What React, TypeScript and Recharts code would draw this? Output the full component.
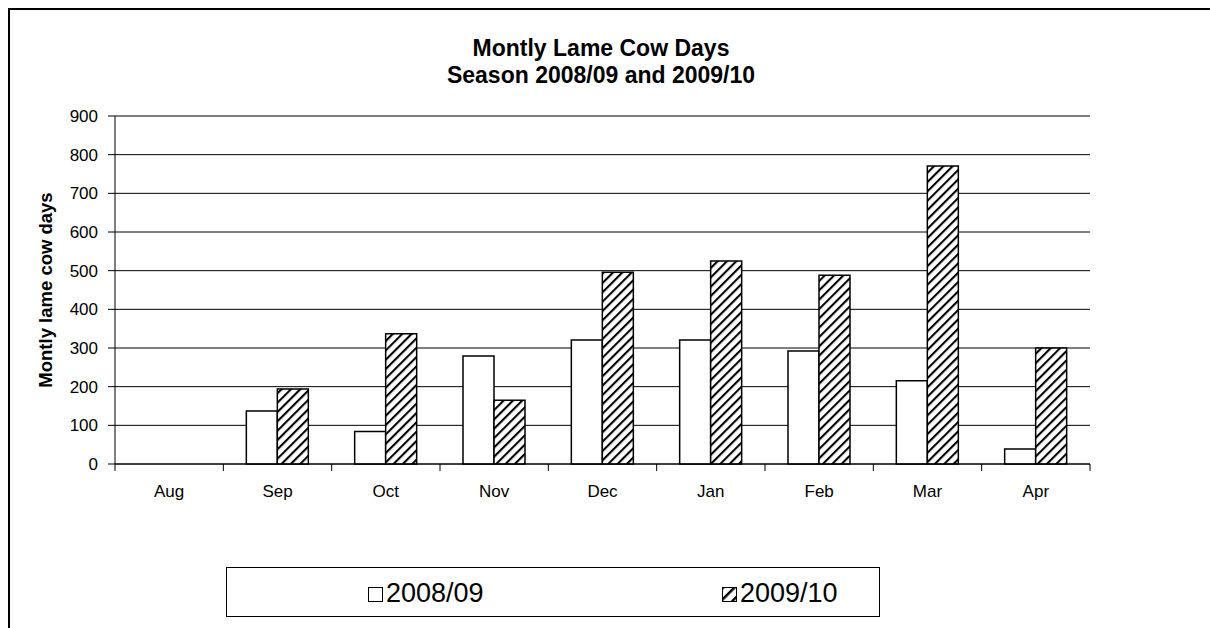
import { BarChart, Bar, XAxis, YAxis, CartesianGrid, Legend } from 'recharts'

const MONTHS = ['Aug', 'Sep', 'Oct', 'Nov', 'Dec', 'Jan', 'Feb', 'Mar', 'Apr']
const SEASON_0809 = [0, 137, 84, 279, 321, 321, 292, 215, 39]
const SEASON_0910 = [0, 194, 337, 165, 496, 525, 488, 771, 300]
const Y_TICKS = [0, 100, 200, 300, 400, 500, 600, 700, 800, 900]

const data = MONTHS.map((m, i) => ({ month: m, s0809: SEASON_0809[i], s0910: SEASON_0910[i] }))

const FONT = '"Liberation Sans", Arial, sans-serif'
const W = 1202
const H = 620
const MARGIN = { top: 108, right: 120, bottom: 124, left: 47 }
const PLOT_W = W - MARGIN.left - MARGIN.right - 60
const BAND = PLOT_W / MONTHS.length
const AXIS_Y = H - MARGIN.bottom - 40

function MonthTick(props: any) {
  const { x, payload, index } = props
  const left = x - BAND / 2
  return (
    <g>
      <line x1={left} x2={left} y1={AXIS_Y} y2={AXIS_Y + 7} stroke="#000" />
      {index === MONTHS.length - 1 && (
        <line x1={x + BAND / 2} x2={x + BAND / 2} y1={AXIS_Y} y2={AXIS_Y + 7} stroke="#000" />
      )}
      <text x={x} y={AXIS_Y + 33} textAnchor="middle" fontSize={17} fontFamily={FONT} fill="#000">
        {payload.value}
      </text>
    </g>
  )
}

function YLabel(props: any) {
  const { viewBox } = props
  const cx = 37
  const cy = viewBox.y + viewBox.height / 2
  return (
    <text
      x={cx}
      y={cy}
      transform={`rotate(-90 ${cx} ${cy})`}
      textAnchor="middle"
      dominantBaseline="central"
      fontSize={18.5}
      fontWeight="bold"
      fontFamily={FONT}
      fill="#000"
    >
      Montly lame cow days
    </text>
  )
}

function LegendBox() {
  const item = (label: string, fill: string, left: number) => (
    <>
      <svg width={15} height={15} style={{ position: 'absolute', left, top: 19 }}>
        <rect x={0.5} y={0.5} width={14} height={14} fill={fill} stroke="#000" strokeWidth={1} />
      </svg>
      <span
        style={{
          position: 'absolute',
          left: left + 18,
          top: 9,
          fontSize: 27,
          fontFamily: FONT,
          color: '#000',
          lineHeight: '32px',
          whiteSpace: 'nowrap',
        }}
      >
        {label}
      </span>
    </>
  )
  return (
    <div style={{ position: 'relative', width: 652, height: 48, border: '1px solid #000', background: '#fff' }}>
      {item('2008/09', '#fff', 141)}
      {item('2009/10', 'url(#legendHatch)', 495)}
      <svg width={0} height={0} style={{ position: 'absolute' }}>
        <defs>
          <pattern id="legendHatch" width={8} height={10} patternUnits="userSpaceOnUse" patternTransform="rotate(45)">
            <rect width={8} height={10} fill="#fff" />
            <line x1={0} y1={0} x2={0} y2={10} stroke="#000" strokeWidth={5} />
          </pattern>
        </defs>
      </svg>
    </div>
  )
}

export default function App() {
  return (
    <div
      style={{
        position: 'fixed',
        left: 8,
        top: 8,
        width: 1400,
        height: 800,
        boxSizing: 'border-box',
        borderTop: '2px solid #000',
        borderLeft: '2px solid #000',
        background: '#fff',
      }}
    >
      <div
        style={{
          position: 'absolute',
          left: 191,
          width: 800,
          top: 25,
          textAlign: 'center',
          fontFamily: FONT,
          fontWeight: 'bold',
          fontSize: 23,
          lineHeight: '27px',
          color: '#000',
          zIndex: 1,
        }}
      >
        Montly Lame Cow Days
        <br />
        Season 2008/09 and 2009/10
      </div>
      <BarChart
        width={W}
        height={H}
        data={data}
        margin={MARGIN}
        barGap={0}
        barSize={31}
        style={{ position: 'absolute', left: -2, top: -2 }}
      >
        <defs>
          <pattern id="hatch" width={6.6} height={10} patternUnits="userSpaceOnUse" patternTransform="rotate(45)">
            <rect width={6.6} height={10} fill="#fff" />
            <line x1={0} y1={0} x2={0} y2={10} stroke="#000" strokeWidth={4.2} />
          </pattern>
        </defs>
        <CartesianGrid vertical={false} stroke="#000" strokeWidth={1} />
        <XAxis
          dataKey="month"
          stroke="#000"
          tickLine={false}
          tick={<MonthTick />}
          height={40}
          interval={0}
        />
        <YAxis
          domain={[0, 900]}
          ticks={Y_TICKS}
          stroke="#000"
          tickSize={7}
          tickMargin={10}
          width={60}
          tick={{ fontSize: 17, fontFamily: FONT, fill: '#000' }}
          label={<YLabel />}
        />
        <Legend
          layout="vertical"
          align="center"
          verticalAlign="middle"
          wrapperStyle={{ left: 218, top: 559, width: 654, height: 50 }}
          content={() => <LegendBox />}
        />
        <Bar dataKey="s0809" name="2008/09" fill="#fff" stroke="#000" strokeWidth={1.5} isAnimationActive={false} />
        <Bar dataKey="s0910" name="2009/10" fill="url(#hatch)" stroke="#000" strokeWidth={1.5} isAnimationActive={false} />
      </BarChart>
    </div>
  )
}
